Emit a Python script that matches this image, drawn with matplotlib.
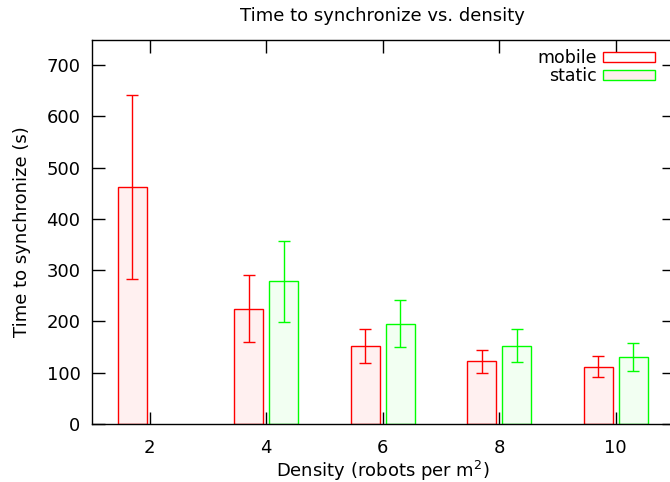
import numpy as np
import matplotlib
matplotlib.use("Agg")
import matplotlib.pyplot as plt
from matplotlib.patches import Patch

# values
density = [2, 4, 6, 8, 10]
mobile = [462, 225, 152, 122, 112]
mobile_err = [179, 65, 33, 23, 21]
static = [np.nan, 278, 196, 153, 131]
static_err = [np.nan, 79, 45, 32, 28]

red = "#ff0000"
green = "#00ff00"

plt.rcParams["font.family"] = ["DejaVu Sans"]
plt.rcParams["font.size"] = 13

fig = plt.figure(figsize=(6.70, 4.82), dpi=100)
ax = fig.add_axes([0.1366, 0.1203, 0.8694, 0.7977])

x = np.array(density, dtype=float)
w = 0.5
off = 0.3

ax.bar(x - off, mobile, width=w, facecolor="#fff0f0", edgecolor=red, linewidth=1.0, zorder=2)
ax.errorbar(x - off, mobile, yerr=mobile_err, fmt="none", ecolor=red,
            elinewidth=1.0, capsize=4.3, capthick=1.0, zorder=3)
ax.bar(x + off, static, width=w, facecolor="#f2fff2", edgecolor=green, linewidth=1.0, zorder=2)
ax.errorbar(x + off, static, yerr=static_err, fmt="none", ecolor=green,
            elinewidth=1.0, capsize=4.3, capthick=1.0, zorder=3)

ax.set_xlim(1, 11)
ax.set_ylim(0, 750)
ax.set_xticks(density)
ax.set_yticks(np.arange(0, 701, 100))
ax.tick_params(direction="in", length=9, width=1, top=True, right=True, pad=8)
ax.tick_params(axis="x", pad=11)
for s in ax.spines.values():
    s.set_linewidth(1.0)

ax.set_title("Time to synchronize vs. density", fontsize=13, pad=13)
ax.set_xlabel("Density (robots per m$^2$)", fontsize=13, labelpad=1)
ax.set_ylabel("Time to synchronize (s)", fontsize=13, labelpad=11)

handles = [Patch(facecolor="white", edgecolor=red, linewidth=1.0, label="mobile"),
           Patch(facecolor="#fdeeee", edgecolor=green, linewidth=1.0, label="static")]
ax.legend(handles=handles, loc="upper right", bbox_to_anchor=(0.967, 0.975),
          frameon=False, markerfirst=False, fontsize=12.5, handlelength=3.0,
          handleheight=0.5, handletextpad=0.35, labelspacing=0.0,
          borderpad=0, borderaxespad=0)

fig.savefig("out.png", dpi=100)
